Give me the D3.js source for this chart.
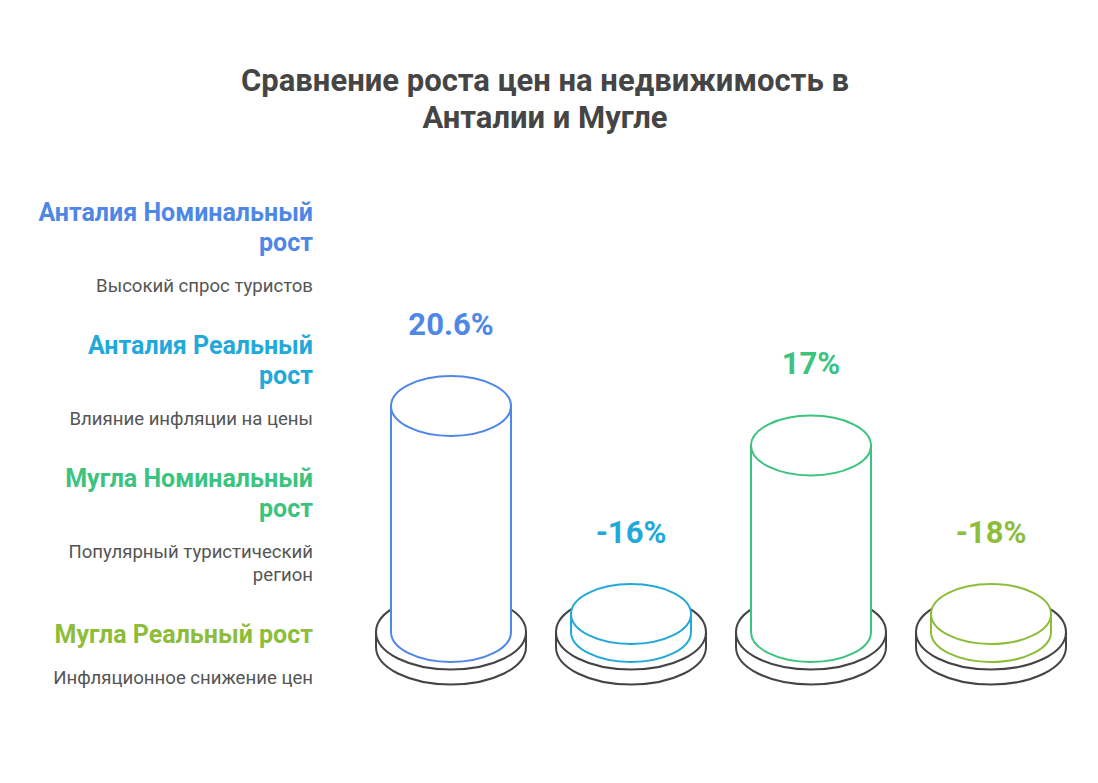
<!DOCTYPE html>
<html>
<head>
<meta charset="utf-8">
<script src="https://cdn.jsdelivr.net/npm/d3@7"></script>
<style>
  html, body { margin: 0; padding: 0; background: #fff; }
  svg { display: block; font-family: Roboto, "Noto Sans", sans-serif; }
</style>
</head>
<body>
<div id="chart"></div>
<script>
const categories = ["Анталия Номинальный рост", "Анталия Реальный рост", "Мугла Номинальный рост", "Мугла Реальный рост"];
const values = [20.6, -16, 17, -18];
const valueLabels = ["20.6%", "-16%", "17%", "-18%"];
const colors = ["#4f87e6", "#22a9da", "#3cc380", "#8dbd3a"];
// legend lines, already split as in the picture
const headingLines = [["Анталия Номинальный", "рост"], ["Анталия Реальный", "рост"], ["Мугла Номинальный", "рост"], ["Мугла Реальный рост"]];
const descLines = [["Высокий спрос туристов"], ["Влияние инфляции на цены"], ["Популярный туристический", "регион"], ["Инфляционное снижение цен"]];
const titleLines = ["Сравнение роста цен на недвижимость в", "Анталии и Мугле"];

const W = 1098, H = 783;
const svg = d3.select('#chart').append('svg')
  .attr('width', W)
  .attr('height', H);

// title
svg.append('g').selectAll('text')
  .data(titleLines)
  .enter().append('text')
  .attr('x', 545)
  .attr('y', (d, i) => 91 + i * 37)
  .attr('text-anchor', 'middle')
  .attr('font-size', '31px')
  .attr('font-weight', 700)
  .attr('fill', '#454545')
  .text(d => d);

// legend on the left, right aligned (cy = visual centre of the line)
const LX = 313;
let cy = 212;
const legend = svg.append('g');
categories.forEach((c, i) => {
  headingLines[i].forEach((line, j) => {
    legend.append('text')
      .attr('x', LX).attr('y', cy + 9)
      .attr('text-anchor', 'end')
      .attr('font-size', '25px')
      .attr('font-weight', 700)
      .attr('fill', colors[i])
      .text(line);
    if (j < headingLines[i].length - 1) cy += 30;
  });
  cy += 43;
  descLines[i].forEach((line, j) => {
    legend.append('text')
      .attr('x', LX).attr('y', cy + 6.5)
      .attr('text-anchor', 'end')
      .attr('font-size', '18.6px')
      .attr('fill', '#555')
      .text(line);
    if (j < descLines[i].length - 1) cy += 23;
  });
  cy += 60;
});

// cylinders
const x = d3.scalePoint().domain(categories).range([451, 991]);
const h = d3.scaleLinear().domain([0, 20.6]).range([0, 226]);
const MIN_H = 18;
const BASE_Y = 632;
const RX = 60, RY = 30;
const BRX = 75, BRY = 37.5, BDEPTH = 15;

const groups = svg.selectAll('.bar')
  .data(categories.map((c, i) => ({ c, v: values[i], label: valueLabels[i], color: colors[i] })))
  .enter().append('g')
  .attr('class', 'bar');

// base disc
groups.append('path')
  .attr('d', d => {
    const cx = x(d.c);
    return `M${cx - BRX},${BASE_Y} L${cx - BRX},${BASE_Y + BDEPTH}
      A${BRX},${BRY} 0 0 0 ${cx + BRX},${BASE_Y + BDEPTH}
      L${cx + BRX},${BASE_Y} Z`;
  })
  .attr('fill', '#fff')
  .attr('stroke', '#444')
  .attr('stroke-width', 2);
groups.append('ellipse')
  .attr('cx', d => x(d.c))
  .attr('cy', BASE_Y)
  .attr('rx', BRX).attr('ry', BRY)
  .attr('fill', '#fff')
  .attr('stroke', '#444')
  .attr('stroke-width', 2);

const topY = d => BASE_Y - (d.v > 0 ? h(d.v) : MIN_H);

// body
groups.append('path')
  .attr('d', d => {
    const cx = x(d.c);
    const t = topY(d);
    return `M${cx - RX},${t} L${cx - RX},${BASE_Y}
      A${RX},${RY} 0 0 0 ${cx + RX},${BASE_Y}
      L${cx + RX},${t} Z`;
  })
  .attr('fill', '#fff')
  .attr('stroke', d => d.color)
  .attr('stroke-width', 2);
// top
groups.append('ellipse')
  .attr('cx', d => x(d.c))
  .attr('cy', topY)
  .attr('rx', RX).attr('ry', RY)
  .attr('fill', '#fff')
  .attr('stroke', d => d.color)
  .attr('stroke-width', 2);

// value labels
groups.append('text')
  .attr('x', d => x(d.c))
  .attr('y', d => topY(d) - RY - 41)
  .attr('text-anchor', 'middle')
  .attr('font-size', '31px')
  .attr('font-weight', 700)
  .attr('fill', d => d.color)
  .text(d => d.label);
</script>
</body>
</html>
